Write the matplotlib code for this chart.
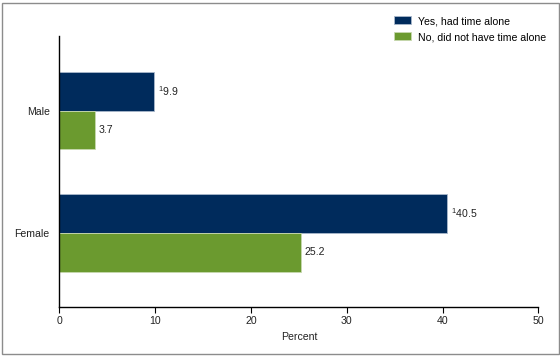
#Importing Libraries
import numpy as np
import matplotlib
matplotlib.use('Agg')
import matplotlib.pyplot as plt
from matplotlib.patches import Rectangle

plt.rcParams['font.family'] = ['Liberation Sans', 'DejaVu Sans']
plt.rcParams['mathtext.fontset'] = 'custom'
plt.rcParams['mathtext.rm'] = 'Liberation Sans'

#Data
categories = ['Male', 'Female']
yes_vals = [9.9, 40.5]
no_vals = [3.7, 25.2]
yes_labels = ['$^\\mathregular{1}$9.9', '$^\\mathregular{1}$40.5']
no_labels = ['3.7', '25.2']
series_names = ['Yes, had time alone', 'No, did not have time alone']

navy = '#002B5C'
green = '#6B9A2F'
fs = 7.6

fig = plt.figure(figsize=(5.6, 3.57), dpi=100)
ax = fig.add_axes([0.1059, 0.1409, 0.8557, 0.7583])

y = np.arange(len(categories))
h = 0.317
b1 = ax.barh(y - h/2, yes_vals, height=h, color=navy, edgecolor='#A9B8CC', linewidth=0.6, label=series_names[0])
b2 = ax.barh(y + h/2, no_vals, height=h, color=green, edgecolor='#C8D9B0', linewidth=0.6, label=series_names[1])

#Value labels
for yy, v, lab in zip(y - h/2, yes_vals, yes_labels):
    ax.annotate(lab, (v, yy), xytext=(2.4, 0), textcoords='offset points', va='center', ha='left', fontsize=fs, color='#222222')
for yy, v, lab in zip(y + h/2, no_vals, no_labels):
    ax.annotate(lab, (v, yy), xytext=(2.4, 0), textcoords='offset points', va='center', ha='left', fontsize=fs, color='#222222')

ax.set_xlim(0, 50)
ax.set_ylim(1.603, -0.611)
ax.set_xticks([0, 10, 20, 30, 40, 50])
ax.set_yticks(y)
ax.set_yticklabels(categories)
ax.tick_params(axis='y', length=0, pad=7, labelsize=fs, labelcolor='#222222')
ax.tick_params(axis='x', length=4, width=0.8, pad=3, labelsize=fs, direction='out', labelcolor='#222222')
ax.set_xlabel('Percent', fontsize=fs, labelpad=4, color='#222222')

ax.spines['top'].set_visible(False)
ax.spines['right'].set_visible(False)
ax.spines['left'].set_linewidth(1.0)
ax.spines['bottom'].set_linewidth(1.0)

fig.legend(handles=[b1, b2], loc='upper left', bbox_to_anchor=(0.696, 0.967), frameon=False,
           fontsize=fs, handlelength=1.61, handleheight=0.8, handletextpad=0.66, labelspacing=0.58,
           borderaxespad=0)

#Gray frame around the figure
fig.patches.append(Rectangle((0.0036, 0.0098), 0.9946, 0.982, transform=fig.transFigure,
                             fill=False, edgecolor='#8C8C8C', linewidth=1.0))

plt.savefig('out.png', dpi=100)
